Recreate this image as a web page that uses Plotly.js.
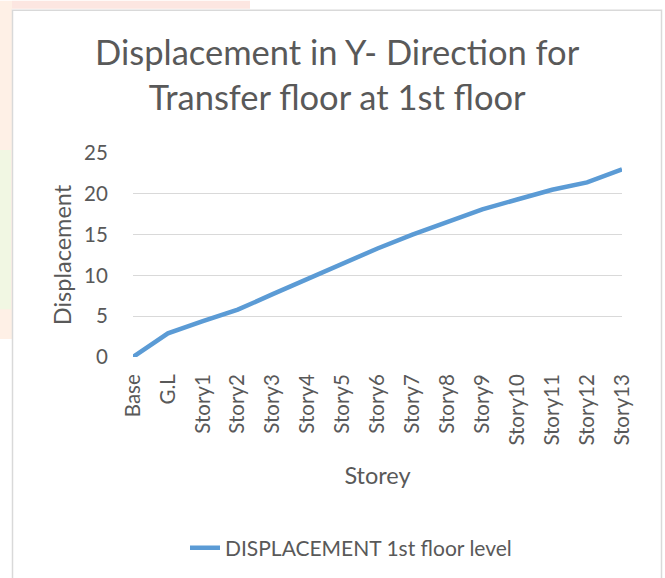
<!DOCTYPE html>
<html>
<head>
<meta charset="utf-8">
<script src="https://cdn.plot.ly/plotly-3.0.1.min.js"></script>
<style>
  html, body { margin: 0; padding: 0; background: #fff; }
  #chart { width: 665px; height: 578px; }
</style>
</head>
<body>
<div id="chart"></div>
<script>
const storeys = ['Base', 'G.L', 'Story1', 'Story2', 'Story3', 'Story4', 'Story5',
  'Story6', 'Story7', 'Story8', 'Story9', 'Story10', 'Story11', 'Story12', 'Story13'];
const displacement = [0, 2.9, 4.4, 5.8, 7.7, 9.6, 11.5, 13.3, 15.0, 16.6, 18.1, 19.3, 20.5, 21.4, 23.0];
const seriesName = 'DISPLACEMENT 1st floor level';

// plot area in pixels, used to place the frame and the faint page marks
const W = 665, H = 578;
const plotL = 133, plotR = 622, plotT = 153, plotB = 358;
const px = x => (x - plotL) / (plotR - plotL);
const py = y => (plotB - y) / (plotB - plotT);

const font = 'Lato, "Open Sans", sans-serif';
const grey = '#595959';

const frame = {
  type: 'rect', xref: 'paper', yref: 'paper', layer: 'below',
  x0: px(12.5), x1: px(661.5), y0: py(590), y1: py(9.5),
  line: { color: '#d9d9d9', width: 1.5 }, fillcolor: '#ffffff'
};
const marks = [
  { x0: px(0), x1: px(12), y0: py(340), y1: py(0), fillcolor: 'rgba(253,225,205,0.5)' },
  { x0: px(12), x1: px(250), y0: py(8), y1: py(0), fillcolor: 'rgba(250,205,195,0.5)' },
  { x0: px(0), x1: px(11), y0: py(310), y1: py(150), fillcolor: 'rgba(238,248,226,0.85)' }
].map(m => Object.assign({ type: 'rect', xref: 'paper', yref: 'paper', layer: 'below', line: { width: 0 } }, m));

Plotly.newPlot('chart', [{
  x: storeys,
  y: displacement,
  type: 'scatter',
  mode: 'lines',
  name: seriesName,
  line: { color: '#5b9bd5', width: 4.5 }
}], {
  width: W,
  height: H,
  margin: { l: plotL, r: W - plotR, t: plotT, b: H - plotB },
  paper_bgcolor: '#ffffff',
  plot_bgcolor: 'rgba(0,0,0,0)',
  font: { family: font, color: grey },
  title: {
    text: 'Displacement in Y- Direction for<br>Transfer floor at 1st floor',
    font: { family: font, size: 34.5, color: grey },
    x: 0.507, xanchor: 'center',
    y: 1 - 65 / H, yanchor: 'top'
  },
  xaxis: {
    type: 'category',
    tickangle: -90,
    tickfont: { size: 20.5, color: grey },
    ticks: 'outside', ticklen: 8, tickcolor: 'rgba(0,0,0,0)',
    showgrid: false, zeroline: false, showline: false,
    title: { text: 'Storey', font: { size: 23.5, color: grey }, standoff: 22 }
  },
  yaxis: {
    range: [0, 25],
    dtick: 5,
    tickfont: { size: 20.5, color: grey },
    ticks: 'outside', ticklen: 20, tickcolor: 'rgba(0,0,0,0)',
    gridcolor: '#d9d9d9', gridwidth: 1.3,
    zeroline: false, showline: false,
    title: { text: 'Displacement', font: { size: 23.5, color: grey }, standoff: 5 }
  },
  showlegend: true,
  legend: {
    orientation: 'h',
    x: px(185), xanchor: 'left',
    y: py(548), yanchor: 'middle',
    font: { size: 21, color: grey },
    bgcolor: 'rgba(0,0,0,0)'
  },
  shapes: [...marks, frame]
}, { displayModeBar: false, staticPlot: true });
</script>
</body>
</html>
